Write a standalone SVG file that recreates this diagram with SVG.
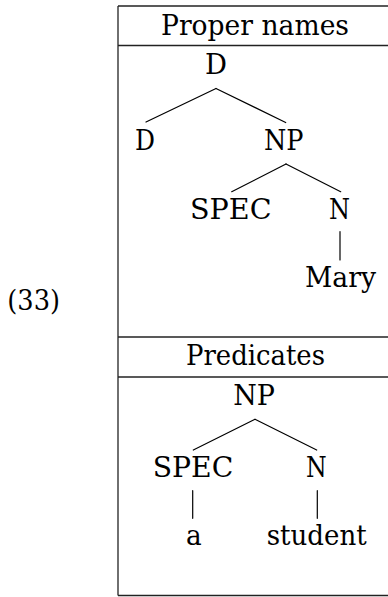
<svg xmlns="http://www.w3.org/2000/svg" width="388" height="597" viewBox="0 0 388 597">
  <style>
    .lbl { font-family: 'DejaVu Serif', 'Liberation Serif', serif; font-size: 28px; fill: #000; }
    .rule { stroke: #222; stroke-width: 1.3; fill: none; }
    .edge { stroke: #000; stroke-width: 1.2; fill: none; stroke-linecap: round; }
  </style>
  <rect width="388" height="597" fill="#fff"/>

  <!-- example number -->
  <text class="lbl" id="exnum" x="7.3" y="310" textLength="52.7" lengthAdjust="spacingAndGlyphs">(33)</text>

  <!-- table frame -->
  <g id="frame">
    <line class="rule" x1="118" y1="6" x2="118" y2="595.5"/>
    <line class="rule" x1="118" y1="6" x2="388" y2="6"/>
    <line class="rule" x1="118" y1="45.5" x2="388" y2="45.5"/>
    <line class="rule" x1="118" y1="337" x2="388" y2="337"/>
    <line class="rule" x1="118" y1="377" x2="388" y2="377"/>
    <line class="rule" x1="118" y1="595.5" x2="388" y2="595.5"/>
  </g>

  <!-- headers -->
  <g id="hdr-proper"><text class="lbl" x="161" y="34.5" textLength="188" lengthAdjust="spacingAndGlyphs">Proper names</text></g>
  <g id="hdr-pred"><text class="lbl" x="186" y="365" textLength="139" lengthAdjust="spacingAndGlyphs">Predicates</text></g>

  <!-- connectors -->
  <g id="edges">
    <line class="edge" x1="216" y1="88.5" x2="146" y2="122"/>
    <line class="edge" x1="216" y1="88.5" x2="285.7" y2="122.5"/>
    <line class="edge" x1="286" y1="164" x2="231.7" y2="191.7"/>
    <line class="edge" x1="286" y1="164" x2="340.7" y2="191.7"/>
    <line class="edge" x1="340" y1="231.7" x2="340" y2="260"/>
    <line class="edge" x1="255" y1="419.3" x2="193.3" y2="450"/>
    <line class="edge" x1="255" y1="419.3" x2="316.7" y2="450"/>
    <line class="edge" x1="192.7" y1="490.7" x2="192.7" y2="518.3"/>
    <line class="edge" x1="317.3" y1="490.7" x2="317.3" y2="518.3"/>
  </g>

  <!-- tree 1: proper names -->
  <g id="t1-D-root"><text class="lbl" x="205" y="74" textLength="22" lengthAdjust="spacingAndGlyphs">D</text></g>
  <g id="t1-D"><text class="lbl" x="135" y="150" textLength="20" lengthAdjust="spacingAndGlyphs">D</text></g>
  <g id="t1-NP"><text class="lbl" x="264" y="150" textLength="39.5" lengthAdjust="spacingAndGlyphs">NP</text></g>
  <g id="t1-SPEC"><text class="lbl" x="190" y="218.5" textLength="81.5" lengthAdjust="spacingAndGlyphs">SPEC</text></g>
  <g id="t1-N"><text class="lbl" x="329" y="218.5" textLength="21" lengthAdjust="spacingAndGlyphs">N</text></g>
  <g id="t1-Mary"><text class="lbl" x="305" y="286.5" textLength="71" lengthAdjust="spacingAndGlyphs">Mary</text></g>

  <!-- tree 2: predicates -->
  <g id="t2-NP"><text class="lbl" x="233.3" y="405" textLength="41.7" lengthAdjust="spacingAndGlyphs">NP</text></g>
  <g id="t2-SPEC"><text class="lbl" x="152.7" y="476.7" textLength="80.6" lengthAdjust="spacingAndGlyphs">SPEC</text></g>
  <g id="t2-N"><text class="lbl" x="306" y="476.7" textLength="20.7" lengthAdjust="spacingAndGlyphs">N</text></g>
  <g id="t2-a"><text class="lbl" x="186" y="545" textLength="15.7" lengthAdjust="spacingAndGlyphs">a</text></g>
  <g id="t2-student"><text class="lbl" x="266.7" y="545" textLength="100" lengthAdjust="spacingAndGlyphs">student</text></g>
</svg>
